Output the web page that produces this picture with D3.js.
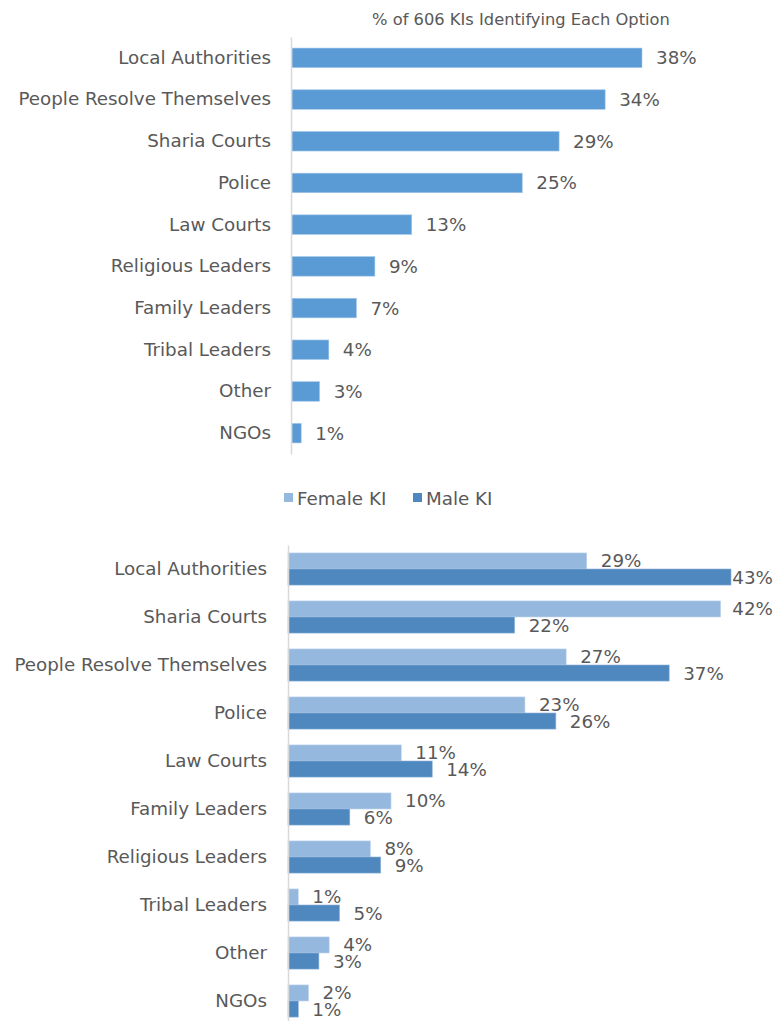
<!DOCTYPE html>
<html><head><meta charset="utf-8">
<script src="https://cdn.jsdelivr.net/npm/d3@7"></script>
<style>
html,body{margin:0;padding:0;background:#fff;}
svg text{font-family:"DejaVu Sans",sans-serif;fill:#595959;}
</style></head>
<body>
<svg id="chart" width="775" height="1021"></svg>
<script>
// ---------- data ----------
const topTitle = "% of 606 KIs Identifying Each Option";
const topCategories = ["Local Authorities","People Resolve Themselves","Sharia Courts","Police","Law Courts","Religious Leaders","Family Leaders","Tribal Leaders","Other","NGOs"];
const topValues = [38, 34, 29, 25, 13, 9, 7, 4, 3, 1];

const bottomCategories = ["Local Authorities","Sharia Courts","People Resolve Themselves","Police","Law Courts","Family Leaders","Religious Leaders","Tribal Leaders","Other","NGOs"];
const seriesNames = ["Female KI","Male KI"];
const femaleValues = [29, 42, 27, 23, 11, 10, 8, 1, 4, 2];
const maleValues   = [43, 22, 37, 26, 14, 6, 9, 5, 3, 1];

const colors = { top:"#5B9BD5", female:"#95B8DF", male:"#4F88BE", axis:"#D9D9D9" };

const svg = d3.select("#chart");
const W = 775;
const fs = 18.3;

// ---------- top chart ----------
const xTop = d3.scaleLinear().domain([0, 38]).range([292, 642]);
const yTop = d3.scaleBand().domain(topCategories).range([37, 454]).paddingInner(0.53).paddingOuter(0.265);

svg.append("text").attr("x", 521).attr("y", 20).attr("text-anchor","middle")
  .attr("dominant-baseline","middle").style("font-size","16.3px").text(topTitle);

const gTop = svg.append("g");
gTop.selectAll("rect").data(topValues).join("rect")
  .attr("x", xTop(0)).attr("y", (d,i)=>yTop(topCategories[i]))
  .attr("width", d=>xTop(d)-xTop(0)).attr("height", yTop.bandwidth())
  .attr("fill", colors.top).attr("stroke","#A9CBEB").attr("stroke-width",0.6);
gTop.selectAll("text.val").data(topValues).join("text").attr("class","val")
  .attr("x", d=>xTop(d)+14).attr("y",(d,i)=>yTop(topCategories[i])+yTop.bandwidth()/2)
  .attr("dominant-baseline","central").style("font-size",fs+"px").text(d=>d+"%");
const axTop = d3.axisLeft(yTop).tickSize(0).tickPadding(20);
const gAxTop = svg.append("g").attr("transform",`translate(${291},0)`).call(axTop);
gAxTop.select(".domain").attr("stroke",colors.axis).attr("stroke-width",1.5);
gAxTop.selectAll("text").style("font-size",fs+"px").attr("fill","#595959").style("font-family",null);

// ---------- legend ----------
const legend = svg.append("g");
const legX = [284, 413];
seriesNames.forEach((n,i)=>{
  legend.append("rect").attr("x",legX[i]).attr("y",493).attr("width",9).attr("height",9)
    .attr("fill", i===0?colors.female:colors.male);
  legend.append("text").attr("x",legX[i]+13).attr("y",498).attr("dominant-baseline","central")
    .style("font-size",fs+"px").text(n);
});

// ---------- bottom chart ----------
const xB = d3.scaleLinear().domain([0, 43]).range([288, 731]);
const yB = d3.scaleBand().domain(bottomCategories).range([545, 1025]).paddingInner(0.33).paddingOuter(0.165);
const ySub = d3.scaleBand().domain(seriesNames).range([0, yB.bandwidth()]);

const rows = bottomCategories.map((c,i)=>({c, vals:[femaleValues[i], maleValues[i]]}));
const gB = svg.append("g");
const grp = gB.selectAll("g.row").data(rows).join("g").attr("class","row")
  .attr("transform", d=>`translate(0,${yB(d.c)})`);
grp.selectAll("rect").data(d=>d.vals.map((v,j)=>({v, s:seriesNames[j]}))).join("rect")
  .attr("x", xB(0)).attr("y", d=>ySub(d.s)).attr("width", d=>xB(d.v)-xB(0)).attr("height", ySub.bandwidth())
  .attr("fill", d=>d.s===seriesNames[0]?colors.female:colors.male)
  .attr("stroke", d=>d.s===seriesNames[0]?"#C3D7EE":"#8FB4D9").attr("stroke-width",0.6);
grp.selectAll("text").data(d=>d.vals.map((v,j)=>({v, s:seriesNames[j]}))).join("text")
  .attr("y", d=>ySub(d.s)+ySub.bandwidth()/2).attr("dominant-baseline","central")
  .style("font-size",fs+"px").text(d=>d.v+"%")
  .attr("x", function(d){ const w=this.getComputedTextLength(); return Math.min(xB(d.v)+14, W-2-w); });

const axB = d3.axisLeft(yB).tickSize(0).tickPadding(21);
const gAxB = svg.append("g").attr("transform",`translate(${288},0)`).call(axB);
gAxB.select(".domain").attr("stroke",colors.axis).attr("stroke-width",1.5);
gAxB.selectAll("text").style("font-size",fs+"px").attr("fill","#595959").style("font-family",null);
</script>
</body></html>
